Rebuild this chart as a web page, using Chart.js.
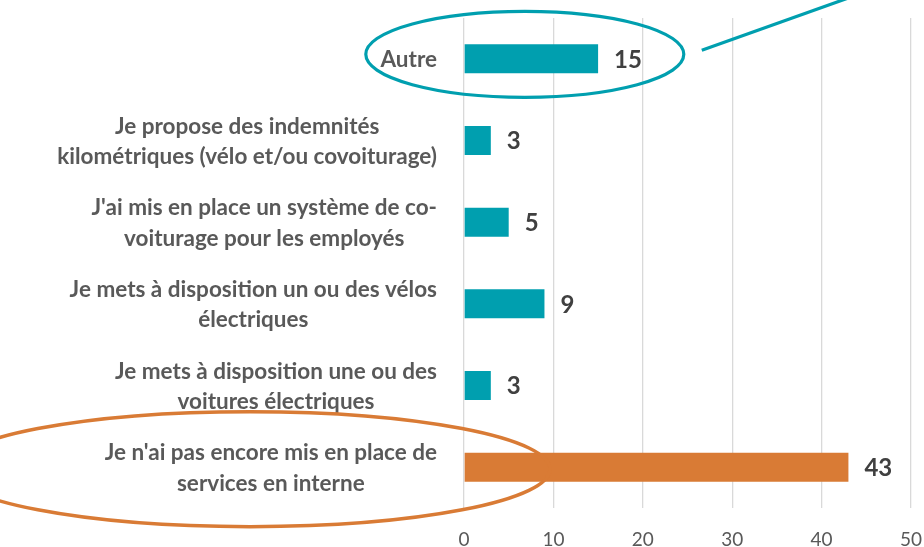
<!DOCTYPE html>
<html>
<head>
<meta charset="utf-8">
<script src="https://cdn.jsdelivr.net/npm/chart.js@4.4.1/dist/chart.umd.min.js"></script>
<style>
  html, body { margin: 0; padding: 0; background: #ffffff; }
  #wrap { width: 924px; height: 547px; overflow: hidden; }
</style>
</head>
<body>
<div id="wrap"><canvas id="services-chart" width="924" height="547"></canvas></div>
<script>
// categories, top to bottom (each label already wrapped into lines)
var categories = [
    ["Autre"],
    ["Je propose des indemnités", "kilométriques (vélo et/ou covoiturage)"],
    ["J'ai mis en place un système de co-", "voiturage pour les employés"],
    ["Je mets à disposition un ou des vélos", "électriques"],
    ["Je mets à disposition une ou des", "voitures électriques"],
    ["Je n'ai pas encore mis en place de", "services en interne"]
];
var responses = [15, 3, 5, 9, 3, 43];
var xTicks = [0, 10, 20, 30, 40, 50];

var teal = "#009FAF";
var orange = "#D97B35";
var labelGrey = "#595959";

// wrapped category labels: block right-aligned, lines centred inside it
var categoryLabels = {
    id: "categoryLabels",
    afterDraw: function(chart) {
        var ctx = chart.ctx;
        var yScale = chart.scales.y;
        var right = yScale.right - 27;
        var lineH = 30.5;
        ctx.save();
        ctx.font = "bold 22.5px Lato";
        ctx.fillStyle = labelGrey;
        ctx.textAlign = "center";
        ctx.textBaseline = "middle";
        categories.forEach(function(lines, i) {
            var y = yScale.getPixelForValue(i);
            var w = 0;
            lines.forEach(function(l) { w = Math.max(w, ctx.measureText(l).width); });
            var cx = right - w / 2;
            lines.forEach(function(l, j) {
                ctx.fillText(l, cx, y + 1 + (j - (lines.length - 1) / 2) * lineH);
            });
        });
        ctx.restore();
    }
};

// value labels at the end of each bar
var valueLabels = {
    id: "valueLabels",
    afterDatasetsDraw: function(chart) {
        var ctx = chart.ctx;
        var meta = chart.getDatasetMeta(0);
        ctx.save();
        ctx.font = "bold 24px Lato";
        ctx.fillStyle = "#404040";
        ctx.textAlign = "left";
        ctx.textBaseline = "middle";
        meta.data.forEach(function(bar, i) {
            ctx.fillText(responses[i], bar.x + 16, bar.y + 1);
        });
        ctx.restore();
    }
};

// hand-drawn highlight ellipses + pointer line
var highlights = {
    id: "highlights",
    afterDraw: function(chart) {
        var ctx = chart.ctx;
        var x = chart.scales.x;
        var y = chart.scales.y;
        ctx.save();

        // teal ring around "Autre"
        var tx = x.getPixelForValue(6.8);
        var ty = y.getPixelForValue(0) - 4.5;
        ctx.strokeStyle = teal;
        ctx.lineWidth = 3.2;
        ctx.beginPath();
        ctx.ellipse(tx, ty, 159, 43, 0, 0, Math.PI * 2);
        ctx.stroke();
        ctx.beginPath();
        ctx.moveTo(tx + 177, ty - 4);
        ctx.lineTo(tx + 345, ty - 64);
        ctx.stroke();

        // orange ring around the last category
        var ox = x.getPixelForValue(0) - 214;
        var oy = y.getPixelForValue(categories.length - 1) + 2;
        ctx.strokeStyle = orange;
        ctx.lineWidth = 3.5;
        ctx.beginPath();
        ctx.ellipse(ox, oy, 300, 57.5, 0, 0, Math.PI * 2);
        ctx.stroke();

        ctx.restore();
    }
};

var graphData = function() {
    var ctx = document.getElementById("services-chart").getContext("2d");

    new Chart(ctx, {
        type: "bar",
        data: {
            labels: categories.map(function(c) { return c.join(" "); }),
            datasets: [{
                label: "Réponses",
                data: responses,
                backgroundColor: responses.map(function(v, i) {
                    return i === responses.length - 1 ? orange : teal;
                }),
                borderWidth: 0,
                barPercentage: 0.355,
                categoryPercentage: 1
            }]
        },
        options: {
            indexAxis: "y",
            responsive: false,
            animation: false,
            layout: {
                padding: { left: 0, right: 13, top: 18, bottom: 0 }
            },
            plugins: {
                legend: { display: false },
                tooltip: { enabled: false }
            },
            scales: {
                x: {
                    min: xTicks[0],
                    max: xTicks[xTicks.length - 1],
                    afterFit: function(scale) { scale.height = 39; },
                    grid: {
                        display: true,
                        drawTicks: true,
                        tickLength: 20,
                        tickColor: "rgba(0,0,0,0)",
                        color: "#D9D9D9",
                        lineWidth: 1.3
                    },
                    border: { display: false },
                    ticks: {
                        stepSize: xTicks[1] - xTicks[0],
                        padding: 0,
                        color: labelGrey,
                        font: {
                            size: 19,
                            family: "Lato",
                            style: "normal"
                        }
                    }
                },
                y: {
                    afterFit: function(scale) { scale.width = 464; },
                    grid: { display: false, drawTicks: false },
                    border: { display: false },
                    ticks: { display: false }
                }
            }
        },
        plugins: [valueLabels, categoryLabels, highlights]
    });
};

window.onload = graphData;
</script>
</body>
</html>
